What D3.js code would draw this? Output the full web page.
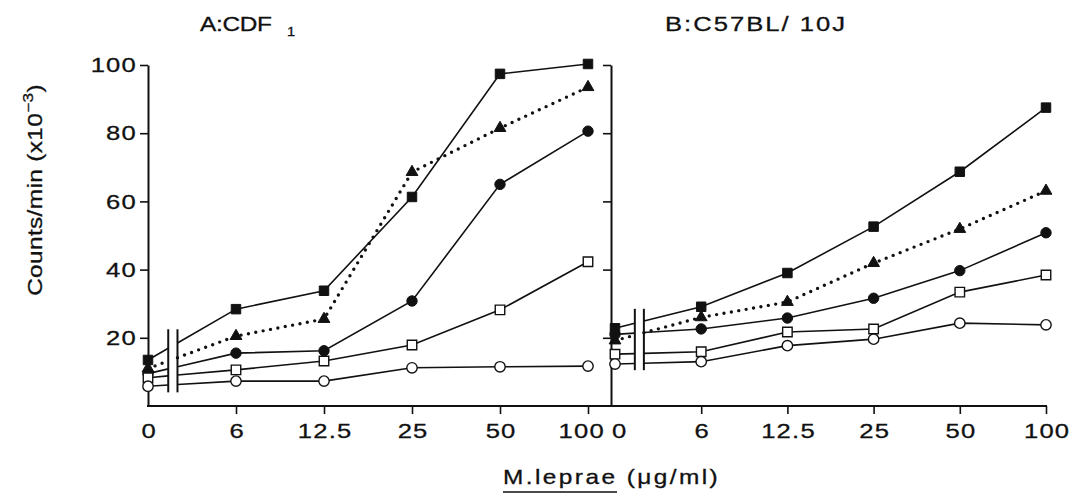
<!DOCTYPE html>
<html>
<head>
<meta charset="utf-8">
<script src="https://cdn.jsdelivr.net/npm/d3@7"></script>
<style>
  body { margin: 0; background: #fff; }
  svg { display: block; }
  text { font-family: "Liberation Sans", Arial, Helvetica, sans-serif; fill: #111; stroke: #111; stroke-width: 0.3px; }
</style>
</head>
<body>
<svg id="chart" width="1076" height="495"></svg>
<script>
// M. leprae dose (µg/ml) categories
const doses = ["0", "6", "12.5", "25", "50", "100"];
const yTicks = [20, 40, 60, 80, 100];

// Panel A: CDF1 (counts/min x 10^-3)
const cdfFilledSquare   = [13.5, 28.4, 33.8, 61.3, 97.4, 100.3];
const cdfFilledTriangle = [11, 20.5, 25.5, 68.6, 81.5, 93.5];
const cdfFilledCircle   = [9.5, 15.5, 16.2, 30.8, 65, 80.6];
const cdfOpenSquare     = [8.3, 10.6, 13.2, 17.9, 28.2, 42.3];
const cdfOpenCircle     = [5.8, 7.3, 7.3, 11.2, 11.5, 11.7];

// Panel B: C57BL/10J
const c57FilledSquare   = [22.8, 29.1, 39, 52.6, 68.7, 87.5];
const c57FilledTriangle = [19.2, 26, 30.5, 41.9, 51.9, 63.1];
const c57FilledCircle   = [21, 22.6, 25.8, 31.6, 39.7, 50.8];
const c57OpenSquare     = [15.2, 15.9, 21.7, 22.6, 33.4, 38.4];
const c57OpenCircle     = [12.3, 13, 17.7, 19.6, 24.3, 23.8];

const svg = d3.select("#chart");
const FONT = "Liberation Sans, Arial, Helvetica, sans-serif";
const WIDE = 1.22; // the lettering in the original is a wide grotesque

const y = d3.scaleLinear().domain([0, 100]).range([406, 65]);

const panels = [
  { title: "A:CDF", sub: "1", titleX: 200, titleLen: 72, titleSize: 20, range: [148, 588], axisX: 148, labels: true,
    breakVals: [4, 22.5], labelShift: { "100": -6 },
    series: [
      { values: cdfFilledSquare, shape: "square", fill: true },
      { values: cdfFilledTriangle, shape: "triangle", fill: true, dotted: true },
      { values: cdfFilledCircle, shape: "circle", fill: true },
      { values: cdfOpenSquare, shape: "square", fill: false },
      { values: cdfOpenCircle, shape: "circle", fill: false }
    ] },
  { title: "B:C57BL/ 10J", sub: null, titleX: 665, titleLen: 180, titleSize: 21, range: [615, 1046], axisX: 611, labels: false,
    breakVals: [10.5, 28.5], labelShift: { "0": 3 },
    series: [
      { values: c57FilledSquare, shape: "square", fill: true },
      { values: c57FilledTriangle, shape: "triangle", fill: true, dotted: true },
      { values: c57FilledCircle, shape: "circle", fill: true },
      { values: c57OpenSquare, shape: "square", fill: false },
      { values: c57OpenCircle, shape: "circle", fill: false }
    ] }
];

// continuous baseline across both panels
svg.append("line")
  .attr("x1", 147).attr("x2", 1047)
  .attr("y1", y(0)).attr("y2", y(0))
  .attr("stroke", "#111").attr("stroke-width", 2);

const breakT = [0.23, 0.335];

function symbolPath(shape) {
  if (shape === "square") return d3.symbol(d3.symbolSquare, 90)();
  if (shape === "triangle") return d3.symbol(d3.symbolTriangle, 60)();
  return d3.symbol(d3.symbolCircle, 85)();
}

panels.forEach((p) => {
  const x = d3.scalePoint().domain(doses).range(p.range);
  const g = svg.append("g");

  // y axis
  const yAxis = d3.axisLeft(y).tickValues(yTicks).tickSize(8).tickSizeOuter(0).tickPadding(1)
    .tickFormat(p.labels ? d3.format("d") : () => "");
  const ya = g.append("g").attr("transform", `translate(${p.axisX},0)`).call(yAxis);
  ya.select(".domain").attr("stroke", "#111").attr("stroke-width", 2);
  ya.selectAll(".tick line").attr("stroke", "#111").attr("stroke-width", 1.6);
  ya.selectAll(".tick text").attr("font-size", 21).attr("letter-spacing", 1).attr("fill", "#111")
    .attr("font-family", FONT)
    .attr("transform", `scale(${WIDE},1)`);

  // x axis
  const xAxis = d3.axisBottom(x).tickSize(8).tickSizeOuter(0).tickPadding(9);
  const xa = g.append("g").attr("transform", `translate(0,${y(0)})`).call(xAxis);
  xa.select(".domain").remove();
  xa.selectAll(".tick line").attr("stroke", "#111").attr("stroke-width", 1.6)
    .filter((d) => d === "0").remove();
  xa.selectAll(".tick text").attr("font-size", 21).attr("letter-spacing", 1).attr("fill", "#111")
    .attr("font-family", FONT)
    .attr("dx", (d) => 0.5 + (p.labelShift[d] || 0))
    .attr("transform", `scale(${WIDE},1)`);

  // title
  svg.append("text")
    .attr("transform", `translate(${p.titleX},31) scale(${WIDE},1)`)
    .attr("font-size", p.titleSize)
    .attr("textLength", p.titleLen / WIDE).attr("lengthAdjust", "spacing")
    .text(p.title);
  if (p.sub) {
    svg.append("text")
      .attr("transform", `translate(287,36) scale(${WIDE},1)`)
      .attr("font-size", 12).style("stroke-width", "0.3px").text(p.sub);
  }

  const x0 = x("0"), x6 = x("6");
  const bx1 = x0 + (x6 - x0) * breakT[0];
  const bx2 = x0 + (x6 - x0) * breakT[1];

  p.series.forEach((s) => {
    const pts = s.values.map((v, i) => [x(doses[i]), y(v)]);
    const lerp = (tt) => [pts[0][0] + (pts[1][0] - pts[0][0]) * tt, pts[0][1] + (pts[1][1] - pts[0][1]) * tt];
    const pieces = [
      [pts[0], lerp(breakT[0])],
      [lerp(breakT[1]), ...pts.slice(1)]
    ];
    pieces.forEach((pc) => {
      const path = g.append("path")
        .attr("d", d3.line()(pc))
        .attr("fill", "none")
        .attr("stroke", "#111");
      if (s.dotted) {
        path.attr("stroke-width", 3.4).attr("stroke-linecap", "round").attr("stroke-dasharray", "0 7.5");
      } else {
        path.attr("stroke-width", 1.6);
      }
    });
  });

  // break marks
  [bx1, bx2].forEach((bx) => {
    g.append("line")
      .attr("x1", bx).attr("x2", bx)
      .attr("y1", y(p.breakVals[0])).attr("y2", y(p.breakVals[1]))
      .attr("stroke", "#111").attr("stroke-width", 2);
  });

  // markers
  p.series.forEach((s) => {
    g.selectAll(null)
      .data(s.values)
      .join("path")
      .attr("d", symbolPath(s.shape))
      .attr("transform", (v, i) => `translate(${x(doses[i])},${y(v)})`)
      .attr("fill", s.fill ? "#111" : "#fff")
      .attr("stroke", "#111")
      .attr("stroke-width", s.fill ? 1 : 1.4);
  });
});

// y axis title
const yTitle = svg.append("text")
  .attr("transform", `translate(42,190) rotate(-90) scale(${WIDE},1)`)
  .attr("text-anchor", "middle")
  .attr("font-size", 20)
  .attr("letter-spacing", 0.3);
yTitle.append("tspan").text("Counts/min (x10");
yTitle.append("tspan").attr("font-size", 14).attr("dy", -9).text("−3");
yTitle.append("tspan").attr("dy", 9).text(")");

// x axis title
const xTitle = svg.append("text")
  .attr("transform", `translate(503,484) scale(${WIDE},1)`)
  .attr("font-size", 20)
  .attr("letter-spacing", 2);
xTitle.append("tspan").text("M.leprae");
xTitle.append("tspan").text(" (μg/ml)");
svg.append("line")
  .attr("x1", 503).attr("x2", 617).attr("y1", 492).attr("y2", 492)
  .attr("stroke", "#111").attr("stroke-width", 1.5);
</script>
</body>
</html>
